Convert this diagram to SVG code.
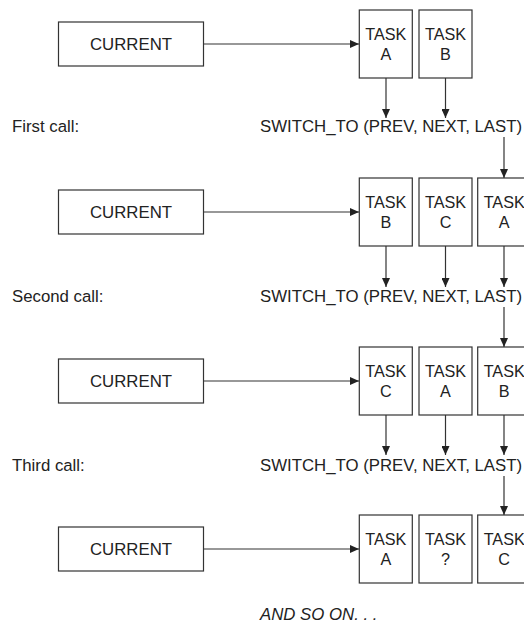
<svg xmlns="http://www.w3.org/2000/svg" width="524" height="625" viewBox="0 0 524 625">
<style>
.box{fill:#fff;stroke:#333;stroke-width:1.2}
.t{font-family:"Liberation Sans",Arial,sans-serif;font-size:16.8px;fill:#222}
.tk{font-family:"Liberation Sans",Arial,sans-serif;font-size:16.2px;fill:#222;text-anchor:middle}
.c{text-anchor:middle}
.it{font-style:italic}
.ln{stroke:#333;stroke-width:1.2;fill:none;marker-end:url(#ah)}
</style>
<defs>
<marker id="ah" markerUnits="userSpaceOnUse" markerWidth="9" markerHeight="8" refX="9" refY="4" orient="auto">
<path d="M0,0 L9,4 L0,8 z" fill="#222"/>
</marker>
</defs>
<rect width="524" height="625" fill="#fff"/>
<g id="connectors">
<line class="ln" x1="203.5" y1="44" x2="359" y2="44"/>
<line class="ln" x1="386" y1="78" x2="386" y2="118"/>
<line class="ln" x1="445.5" y1="78" x2="445.5" y2="118"/>
<line class="ln" x1="504" y1="137" x2="504" y2="178"/>
<line class="ln" x1="203.5" y1="212" x2="359" y2="212"/>
<line class="ln" x1="386" y1="246" x2="386" y2="287"/>
<line class="ln" x1="445.5" y1="246" x2="445.5" y2="287"/>
<line class="ln" x1="504" y1="246" x2="504" y2="287"/>
<line class="ln" x1="504" y1="307" x2="504" y2="347"/>
<line class="ln" x1="203.5" y1="381" x2="359" y2="381"/>
<line class="ln" x1="386" y1="415" x2="386" y2="455"/>
<line class="ln" x1="445.5" y1="415" x2="445.5" y2="455"/>
<line class="ln" x1="504" y1="415" x2="504" y2="455"/>
<line class="ln" x1="504" y1="476" x2="504" y2="515"/>
<line class="ln" x1="203.5" y1="549" x2="359" y2="549"/>
</g>
<g id="current1"><rect class="box" x="58.5" y="22" width="145" height="44"/><text class="t c" x="131" y="50">CURRENT</text></g>
<g id="r1a"><rect class="box" x="359.3" y="10" width="53" height="68"/><text class="tk" x="385.8" y="40">TASK</text><text class="tk" x="385.8" y="60">A</text></g>
<g id="r1b"><rect class="box" x="419" y="10" width="53" height="68"/><text class="tk" x="445.5" y="40">TASK</text><text class="tk" x="445.5" y="60">B</text></g>
<g id="call1"><text class="t" x="12" y="132">First call:</text><text class="t" x="260" y="132">SWITCH_TO (PREV, NEXT, LAST)</text></g>

<g id="current2"><rect class="box" x="58.5" y="190" width="145" height="44"/><text class="t c" x="131" y="218">CURRENT</text></g>
<g id="r2b"><rect class="box" x="359.3" y="178" width="53" height="68"/><text class="tk" x="385.8" y="208">TASK</text><text class="tk" x="385.8" y="228">B</text></g>
<g id="r2c"><rect class="box" x="419" y="178" width="53" height="68"/><text class="tk" x="445.5" y="208">TASK</text><text class="tk" x="445.5" y="228">C</text></g>
<g id="r2a"><rect class="box" x="477.7" y="178" width="53" height="68"/><text class="tk" x="504.2" y="208">TASK</text><text class="tk" x="504.2" y="228">A</text></g>
<g id="call2"><text class="t" x="12" y="302">Second call:</text><text class="t" x="260" y="302">SWITCH_TO (PREV, NEXT, LAST)</text></g>

<g id="current3"><rect class="box" x="58.5" y="359" width="145" height="44"/><text class="t c" x="131" y="387">CURRENT</text></g>
<g id="r3c"><rect class="box" x="359.3" y="347" width="53" height="68"/><text class="tk" x="385.8" y="377">TASK</text><text class="tk" x="385.8" y="397">C</text></g>
<g id="r3a"><rect class="box" x="419" y="347" width="53" height="68"/><text class="tk" x="445.5" y="377">TASK</text><text class="tk" x="445.5" y="397">A</text></g>
<g id="r3b"><rect class="box" x="477.7" y="347" width="53" height="68"/><text class="tk" x="504.2" y="377">TASK</text><text class="tk" x="504.2" y="397">B</text></g>
<g id="call3"><text class="t" x="12" y="471">Third call:</text><text class="t" x="260" y="471">SWITCH_TO (PREV, NEXT, LAST)</text></g>

<g id="current4"><rect class="box" x="58.5" y="527" width="145" height="44"/><text class="t c" x="131" y="555">CURRENT</text></g>
<g id="r4a"><rect class="box" x="359.3" y="515" width="53" height="68"/><text class="tk" x="385.8" y="545">TASK</text><text class="tk" x="385.8" y="565">A</text></g>
<g id="r4q"><rect class="box" x="419" y="515" width="53" height="68"/><text class="tk" x="445.5" y="545">TASK</text><text class="tk" x="445.5" y="565">?</text></g>
<g id="r4c"><rect class="box" x="477.7" y="515" width="53" height="68"/><text class="tk" x="504.2" y="545">TASK</text><text class="tk" x="504.2" y="565">C</text></g>
<g id="andsoon"><text class="t it" x="260" y="620">AND SO ON. . .</text></g>
</svg>
